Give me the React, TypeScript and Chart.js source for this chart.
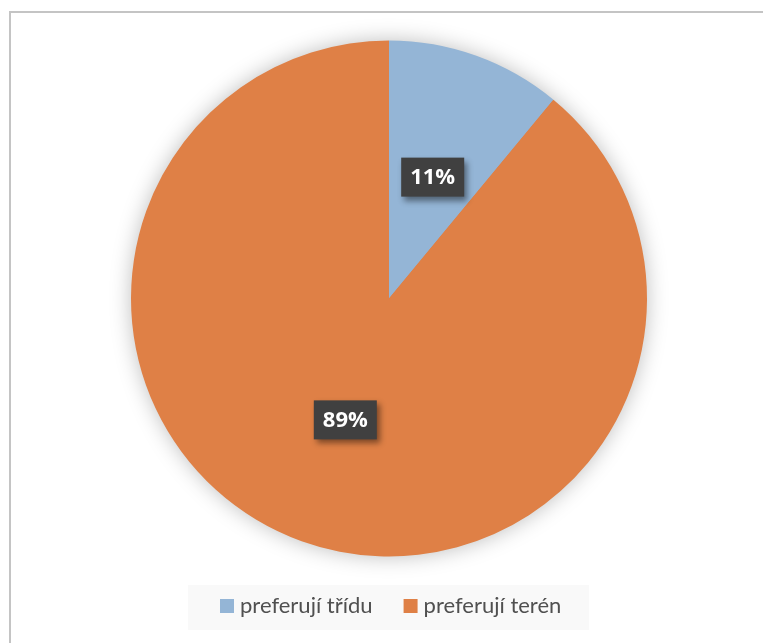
import React, { useEffect, useRef } from "react";
import { Chart, registerables } from "chart.js";

Chart.register(...registerables);

const categories = ["preferují třídu", "preferují terén"];
const values = [11, 89];
const valueLabels = ["11%", "89%"];
const colors = ["#94B5D6", "#DF8046"];

const framePlugin = {
  id: "frame",
  beforeDraw(chart: any) {
    const ctx = chart.ctx;
    ctx.save();
    ctx.fillStyle = "#FFFFFF";
    ctx.fillRect(0, 0, chart.width, chart.height);
    ctx.strokeStyle = "#C4C4C4";
    ctx.lineWidth = 2;
    ctx.beginPath();
    ctx.moveTo(10, chart.height);
    ctx.lineTo(10, 12);
    ctx.lineTo(chart.width, 12);
    ctx.stroke();
    ctx.restore();
  },
  beforeDatasetsDraw(chart: any) {
    const arc = chart.getDatasetMeta(0).data[0];
    if (!arc) return;
    const ctx = chart.ctx;
    ctx.save();
    ctx.shadowColor = "rgba(0,0,0,0.28)";
    ctx.shadowBlur = 22;
    ctx.fillStyle = "#DF8046";
    ctx.beginPath();
    ctx.arc(arc.x, arc.y, arc.outerRadius - 1, 0, Math.PI * 2);
    ctx.fill();
    ctx.restore();
  },
  afterDatasetsDraw(chart: any) {
    const ctx = chart.ctx;
    const meta = chart.getDatasetMeta(0);
    ctx.save();
    meta.data.forEach((arc: any, i: number) => {
      const mid = (arc.startAngle + arc.endAngle) / 2;
      const r = arc.outerRadius * 0.5;
      const cx = arc.x + Math.cos(mid) * r;
      const cy = arc.y + Math.sin(mid) * r;
      const w = 63;
      const h = 39;
      ctx.shadowColor = "rgba(0,0,0,0.45)";
      ctx.shadowBlur = 6;
      ctx.shadowOffsetX = 3;
      ctx.shadowOffsetY = 4;
      ctx.fillStyle = "#404040";
      ctx.fillRect(cx - w / 2, cy - h / 2, w, h);
      ctx.shadowColor = "transparent";
      ctx.fillStyle = "#FFFFFF";
      ctx.font = "bold 22px 'Open Sans', sans-serif";
      ctx.textAlign = "center";
      ctx.textBaseline = "middle";
      ctx.fillText(valueLabels[i], cx, cy + 1);
    });
    ctx.restore();
  },
  afterDraw(chart: any) {
    const ctx = chart.ctx;
    ctx.save();
    ctx.fillStyle = "#F9F9F9";
    ctx.fillRect(188, 585, 401, 45);
    ctx.font = "22px Lato, sans-serif";
    ctx.textBaseline = "middle";
    ctx.textAlign = "left";
    let x = 220;
    const y = 606;
    categories.forEach((c, i) => {
      ctx.fillStyle = colors[i];
      ctx.fillRect(x, y - 7, 14, 14);
      ctx.fillStyle = "#505050";
      ctx.fillText(c, x + 20, y);
      x += 20 + ctx.measureText(c).width + 31;
    });
    ctx.restore();
  },
};

export default function App() {
  const ref = useRef<HTMLCanvasElement>(null);
  useEffect(() => {
    document.body.style.margin = "0";
    const chart = new Chart(ref.current!, {
      type: "pie",
      data: {
        labels: categories,
        datasets: [
          {
            data: values,
            backgroundColor: colors,
            borderWidth: 0,
          },
        ],
      },
      options: {
        animation: false,
        responsive: false,
        layout: { padding: { top: 40, bottom: 86, left: 131, right: 116 } },
        plugins: {
          legend: { display: false },
          tooltip: { enabled: false },
        },
      },
      plugins: [framePlugin],
    });
    return () => chart.destroy();
  }, []);
  return <canvas ref={ref} width={763} height={643} style={{ display: "block" }} />;
}
